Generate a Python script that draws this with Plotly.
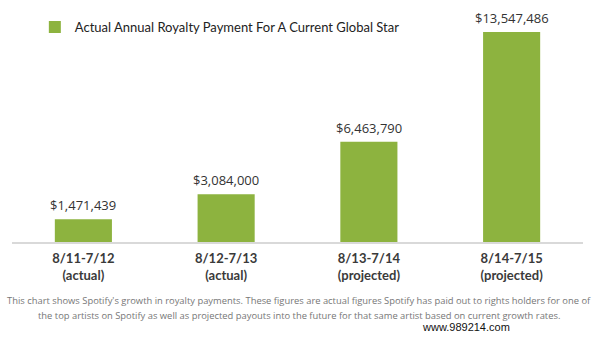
import plotly.graph_objects as go

categories = ["8/11-7/12<br>(actual)", "8/12-7/13<br>(actual)", "8/13-7/14<br>(projected)", "8/14-7/15<br>(projected)"]
values = [1471439, 3084000, 6463790, 13547486]
value_labels = ["$1,471,439", "$3,084,000", "$6,463,790", "$13,547,486"]
series_name = "Actual Annual Royalty Payment For A Current Global Star"
caption_1 = "This chart shows Spotify's growth in royalty payments. These figures are actual figures Spotify has paid out to rights holders for one of"
caption_2 = "the top artists on Spotify as well as projected payouts into the future for that same artist based on current growth rates."
watermark = "www.989214.com"

W, H = 597, 357
TOP, BOTTOM = 20, 242
GREEN = "#8db33f"


def py(pix):
    # pixel y (from top) -> paper coordinate
    return (BOTTOM - pix) / (BOTTOM - TOP)


fig = go.Figure()
fig.add_trace(go.Bar(
    x=categories, y=values, name=series_name,
    marker=dict(color=GREEN, line=dict(width=0)),
    width=0.4, showlegend=True,
))

for c, v, t in zip(categories, values, value_labels):
    fig.add_annotation(x=c, y=v, text=t, showarrow=False, yanchor="bottom", yshift=3,
                       font=dict(family="Open Sans", size=13, color="#333333"))

fig.add_annotation(xref="paper", yref="paper", x=0.503, y=py(300), xanchor="center", yanchor="middle",
                   text=caption_1, showarrow=False,
                   font=dict(family="Open Sans", size=9.4, color="#777777"))
fig.add_annotation(xref="paper", yref="paper", x=0.503, y=py(315), xanchor="center", yanchor="middle",
                   text=caption_2, showarrow=False,
                   font=dict(family="Open Sans", size=9.4, color="#777777"))
fig.add_annotation(xref="paper", yref="paper", x=(512 - 12) / 571, y=py(327), xanchor="right", yanchor="middle",
                   text=watermark, showarrow=False,
                   font=dict(family="Liberation Sans Narrow, Arial", size=11, color="#111111"))

fig.update_layout(
    width=W, height=H,
    margin=dict(l=12, r=14, t=TOP, b=H - BOTTOM, autoexpand=False),
    paper_bgcolor="white", plot_bgcolor="white",
    legend=dict(x=0.04, y=py(27), xanchor="left", yanchor="middle", orientation="h",
                font=dict(family="Lato", size=13, color="#222222"), bgcolor="rgba(0,0,0,0)"),
    xaxis=dict(showgrid=False, showline=True, linecolor="#d9d9d9", linewidth=1.5,
               ticks="", ticklabelstandoff=4,
               tickfont=dict(family="Lato", size=13, color="#3a3a3a", weight="bold"),
               zeroline=False, fixedrange=True),
    yaxis=dict(range=[0, 14.32e6], showgrid=False, showticklabels=False, zeroline=False,
               showline=False, fixedrange=True),
)

fig.write_html("out.html")
